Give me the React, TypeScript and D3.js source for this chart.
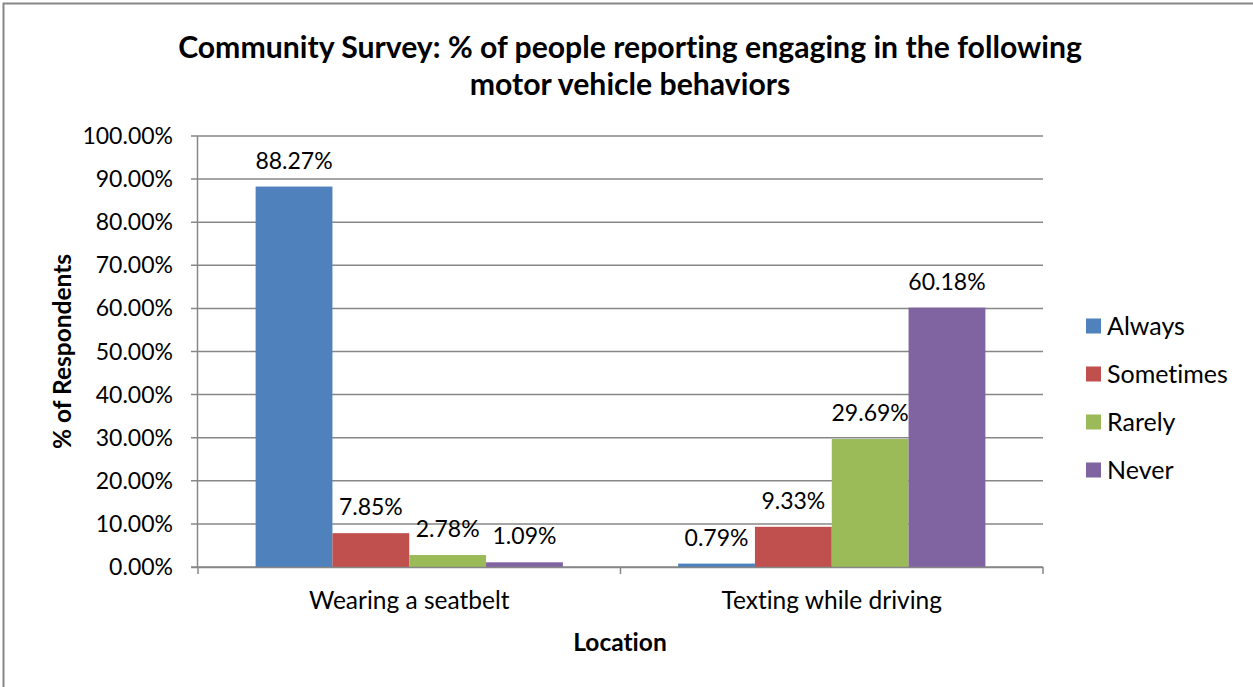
import React from "react";
import * as d3 from "d3";

const categories = ["Wearing a seatbelt", "Texting while driving"];
const seriesNames = ["Always", "Sometimes", "Rarely", "Never"];
const always = [88.27, 0.79];
const sometimes = [7.85, 9.33];
const rarely = [2.78, 29.69];
const never = [1.09, 60.18];
const seriesValues = [always, sometimes, rarely, never];
const colors = ["#4F81BD", "#C0504D", "#9BBB59", "#8064A2"];
const yTicks = [0, 10, 20, 30, 40, 50, 60, 70, 80, 90, 100];
const titleLines = [
  "Community Survey: % of people reporting engaging in the following",
  "motor vehicle behaviors",
];

const W = 1253;
const H = 687;
const FONT = "Lato, 'Open Sans', sans-serif";
const GRID = "#878787";

export default function App() {
  const x0 = d3.scaleBand<string>().domain(categories).range([198, 1043]).paddingInner(0).paddingOuter(0);
  const x1 = d3
    .scaleBand<string>()
    .domain(seriesNames)
    .range([0, x0.bandwidth()])
    .paddingInner(0)
    .paddingOuter(0.75);
  const y = d3.scaleLinear().domain([0, 100]).range([567, 136]);
  const fmt = (v: number) => v.toFixed(2) + "%";

  return (
    <svg
      width={W}
      height={H}
      style={{ position: "absolute", left: 0, top: 0, background: "#fff", fontVariantLigatures: "none" }}
      fontFamily={FONT}
    >
      <rect x={3.5} y={3.5} width={W + 10} height={H + 10} fill="#fff" stroke={GRID} strokeWidth={2} />
      {/* title */}
      {titleLines.map((t, i) => (
        <text key={i} x={630} y={58 + i * 37} textAnchor="middle" fontSize={30.2} fontWeight={700} fill="#000">
          {t}
        </text>
      ))}
      {/* gridlines */}
      {yTicks.map((t) => (
        <line key={t} x1={191} x2={1043} y1={y(t)} y2={y(t)} stroke={GRID} strokeWidth={1.5} />
      ))}
      {/* y axis */}
      <line x1={197.5} x2={197.5} y1={y(100)} y2={y(0)} stroke={GRID} strokeWidth={1.5} />
      {yTicks.map((t) => (
        <text key={t} x={173} y={y(t) + 8} textAnchor="end" fontSize={23} fill="#000">
          {fmt(t)}
        </text>
      ))}
      {/* bars */}
      {categories.map((c, ci) =>
        seriesNames.map((s, si) => {
          const v = seriesValues[si][ci];
          const bx = (x0(c) ?? 0) + (x1(s) ?? 0);
          return (
            <g key={c + s}>
              <rect x={bx} y={y(v)} width={x1.bandwidth()} height={y(0) - y(v)} fill={colors[si]} />
              <text x={bx + x1.bandwidth() / 2} y={y(v) - 18} textAnchor="middle" fontSize={23} fill="#000">
                {fmt(v)}
              </text>
            </g>
          );
        })
      )}
      {/* x axis */}
      <line x1={191} x2={1043} y1={567.5} y2={567.5} stroke={GRID} strokeWidth={1.5} />
      {[...categories.map((c) => x0(c) ?? 0), 1043].map((xv, i) => (
        <line key={i} x1={xv} x2={xv} y1={567} y2={574} stroke={GRID} strokeWidth={1.5} />
      ))}
      {categories.map((c) => (
        <text key={c} x={(x0(c) ?? 0) + x0.bandwidth() / 2} y={609} textAnchor="middle" fontSize={24.5} fill="#000">
          {c}
        </text>
      ))}
      {/* axis titles */}
      <text x={620} y={651} textAnchor="middle" fontSize={24.5} fontWeight={700} fill="#000">
        Location
      </text>
      <text
        transform={`translate(71, ${y(50)}) rotate(-90)`}
        textAnchor="middle"
        fontSize={24.5}
        fontWeight={700}
        fill="#000"
      >
        % of Respondents
      </text>
      {/* legend */}
      {seriesNames.map((s, i) => (
        <g key={s} transform={`translate(1086, ${326 + i * 48})`}>
          <rect x={0} y={-7.5} width={15} height={15} fill={colors[i]} />
          <text x={21} y={8.5} fontSize={25} fill="#000">
            {s}
          </text>
        </g>
      ))}
    </svg>
  );
}
